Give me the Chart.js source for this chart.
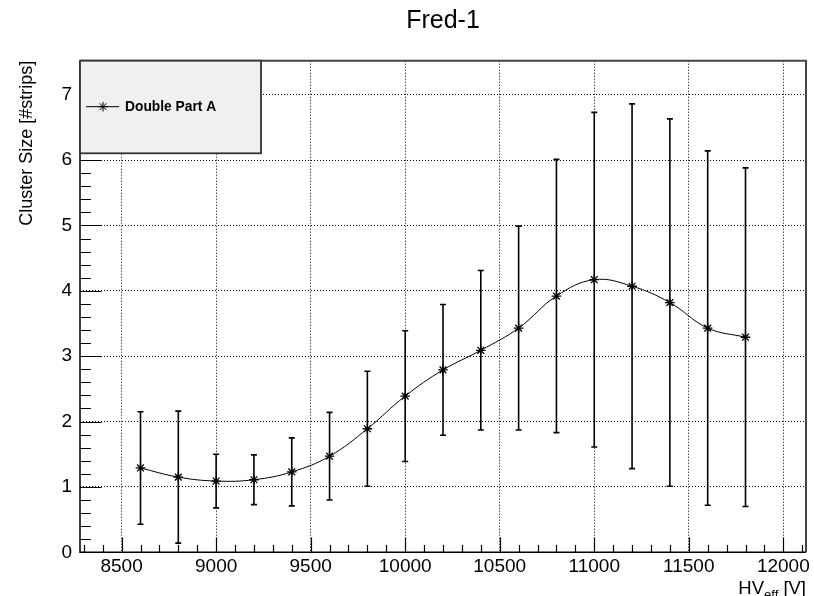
<!DOCTYPE html>
<html>
<head>
<meta charset="utf-8">
<script src="https://cdn.jsdelivr.net/npm/chart.js@4"></script>
<style>
  html, body { margin: 0; padding: 0; background: #ffffff; }
  #wrap { width: 814px; height: 596px; }
</style>
</head>
<body>
<div id="wrap"><canvas id="c" width="814" height="596"></canvas></div>
<script>
// ---- data ----
const hvEff = [8600, 8800, 9000, 9200, 9400, 9600, 9800, 10000, 10200, 10400, 10600, 10800, 11000, 11200, 11400, 11600, 11800];
const clusterSize = [1.29, 1.15, 1.09, 1.11, 1.23, 1.47, 1.89, 2.39, 2.79, 3.09, 3.43, 3.92, 4.17, 4.07, 3.82, 3.43, 3.29];
const clusterErr = [0.86, 1.01, 0.41, 0.38, 0.52, 0.67, 0.88, 1.00, 1.00, 1.22, 1.56, 2.09, 2.56, 2.79, 2.81, 2.71, 2.59];
const xTickValues = [8500, 9000, 9500, 10000, 10500, 11000, 11500, 12000];
const yTickValues = [0, 1, 2, 3, 4, 5, 6, 7];
const seriesLabel = 'Double Part A';
const chartTitle = 'Fred-1';
const yTitle = 'Cluster Size [#strips]';
const xTitleMain = 'HV';
const xTitleSub = 'eff';
const xTitleUnit = ' [V]';

const FONT = '"Liberation Sans", Arial, Helvetica, sans-serif';

const points = hvEff.map((x, i) => ({ x: x, y: clusterSize[i], err: clusterErr[i] }));

const rootPlugin = {
  id: 'rootStyle',
  beforeDatasetsDraw(chart) {
    const ctx = chart.ctx;
    const xs = chart.scales.x, ys = chart.scales.y;
    ctx.save();
    ctx.strokeStyle = '#000';
    ctx.lineWidth = 1.6;
    points.forEach(p => {
      const px = xs.getPixelForValue(p.x);
      const yTop = ys.getPixelForValue(p.y + p.err);
      const yBot = ys.getPixelForValue(p.y - p.err);
      ctx.beginPath();
      ctx.moveTo(px, yTop); ctx.lineTo(px, yBot);
      ctx.moveTo(px - 3, yTop); ctx.lineTo(px + 3, yTop);
      ctx.moveTo(px - 3, yBot); ctx.lineTo(px + 3, yBot);
      ctx.stroke();
    });
    ctx.restore();
  },
  afterDraw(chart) {
    const ctx = chart.ctx;
    const a = chart.chartArea;
    const xs = chart.scales.x, ys = chart.scales.y;
    ctx.save();
    // frame top/right
    ctx.strokeStyle = '#444';
    ctx.lineWidth = 2;
    ctx.beginPath();
    ctx.moveTo(a.left, a.top); ctx.lineTo(a.right, a.top); ctx.lineTo(a.right, a.bottom);
    ctx.stroke();
    // axes left/bottom
    ctx.strokeStyle = '#000';
    ctx.lineWidth = 1.5;
    ctx.beginPath();
    ctx.moveTo(a.left, a.top); ctx.lineTo(a.left, a.bottom); ctx.lineTo(a.right, a.bottom);
    ctx.stroke();
    // ticks (inside)
    ctx.lineWidth = 1.2;
    const h = a.bottom - a.top, w = a.right - a.left;
    const xMaj = 0.03 * h, yMaj = 0.03 * w;
    ctx.beginPath();
    const xStep = (xTickValues[1] - xTickValues[0]) / 5;
    for (let v = xTickValues[0] - 5 * xStep; v <= xs.max; v += xStep) {
      if (v < xs.min) continue;
      const px = Math.round(xs.getPixelForValue(v)) + 0.5;
      const major = xTickValues.includes(Math.round(v));
      ctx.moveTo(px, a.bottom); ctx.lineTo(px, a.bottom - (major ? xMaj : xMaj / 2));
    }
    const yStep = (yTickValues[1] - yTickValues[0]) / 5;
    for (let k = 0; yTickValues[0] + k * yStep <= ys.max; k++) {
      const v = yTickValues[0] + k * yStep;
      const py = Math.round(ys.getPixelForValue(v)) + 0.5;
      const major = (k % 5 === 0);
      ctx.moveTo(a.left, py); ctx.lineTo(a.left + (major ? yMaj : yMaj / 2), py);
    }
    ctx.stroke();

    // x axis title with subscript
    ctx.fillStyle = '#000';
    ctx.textBaseline = 'alphabetic';
    const mainFont = '18.5px ' + FONT, subFont = '13px ' + FONT;
    ctx.font = mainFont;
    const wUnit = ctx.measureText(xTitleUnit).width;
    const wMain = ctx.measureText(xTitleMain).width;
    ctx.font = subFont;
    const wSub = ctx.measureText(xTitleSub).width;
    const baseY = 594;
    let xr = a.right;
    ctx.font = mainFont; ctx.textAlign = 'left';
    ctx.fillText(xTitleUnit, xr - wUnit, baseY);
    ctx.font = subFont;
    ctx.fillText(xTitleSub, xr - wUnit - wSub, baseY + 4.5);
    ctx.font = mainFont;
    ctx.fillText(xTitleMain, xr - wUnit - wSub - wMain, baseY);

    // legend box
    const lx = a.left, ly = a.top, lw = 181, lh = 92.6;
    ctx.fillStyle = '#f0f0f0';
    ctx.fillRect(lx, ly, lw, lh);
    ctx.strokeStyle = '#333';
    ctx.lineWidth = 1.8;
    ctx.strokeRect(lx, ly, lw, lh);
    const ey = ly + 46;
    ctx.strokeStyle = '#000';
    ctx.lineWidth = 1;
    ctx.beginPath(); ctx.moveTo(lx + 6, ey); ctx.lineTo(lx + 39, ey); ctx.stroke();
    const ds = chart.data.datasets[0];
    Chart.helpers.drawPoint(ctx, { pointStyle: 'star', radius: 4.8, borderWidth: 1.3, rotation: 0 }, lx + 23, ey);
    ctx.fillStyle = '#000';
    ctx.font = 'bold 13.8px ' + FONT;
    ctx.textAlign = 'left'; ctx.textBaseline = 'middle';
    ctx.fillText(ds.label, lx + 45, ey + 0.5);
    ctx.restore();
  }
};

new Chart(document.getElementById('c'), {
  type: 'scatter',
  data: {
    datasets: [{
      label: seriesLabel,
      data: points,
      showLine: true,
      tension: 0.4,
      borderColor: '#000',
      borderWidth: 1,
      pointStyle: 'star',
      pointRadius: 4.8,
      pointBorderWidth: 1.3,
      pointBorderColor: '#000',
      pointBackgroundColor: '#000',
      clip: false
    }]
  },
  options: {
    responsive: false,
    animation: false,
    events: [],
    layout: { padding: { left: 0, right: 8, top: 0, bottom: 0 } },
    plugins: {
      legend: { display: false },
      tooltip: { enabled: false },
      title: {
        display: true,
        text: chartTitle,
        fullSize: false,
        color: '#000',
        font: { family: FONT, size: 25, weight: 'normal' },
        padding: { top: 6, bottom: 24.7 }
      }
    },
    scales: {
      x: {
        type: 'linear',
        min: 8280,
        max: 12120,
        afterBuildTicks(scale) { scale.ticks = xTickValues.map(v => ({ value: v })); },
        afterFit(scale) { scale.height = 43.7; },
        ticks: {
          color: '#000',
          font: { family: FONT, size: 19 },
          padding: 3.5,
          maxRotation: 0,
          autoSkip: false,
          callback: v => String(v)
        },
        grid: { color: '#000', lineWidth: 1, drawTicks: false },
        border: { display: false, dash: [1, 2] }
      },
      y: {
        type: 'linear',
        min: 0,
        max: 7.52,
        afterBuildTicks(scale) { scale.ticks = yTickValues.map(v => ({ value: v })); },
        afterFit(scale) { scale.width = 80; },
        ticks: {
          color: '#000',
          font: { family: FONT, size: 19 },
          padding: 8,
          autoSkip: false,
          callback: v => String(v)
        },
        grid: { color: '#000', lineWidth: 1, drawTicks: false },
        border: { display: false, dash: [1, 2] },
        title: {
          display: true,
          text: yTitle,
          align: 'end',
          color: '#000',
          font: { family: FONT, size: 18 },
          padding: { top: 16 }
        }
      }
    }
  },
  plugins: [rootPlugin]
});
</script>
</body>
</html>
